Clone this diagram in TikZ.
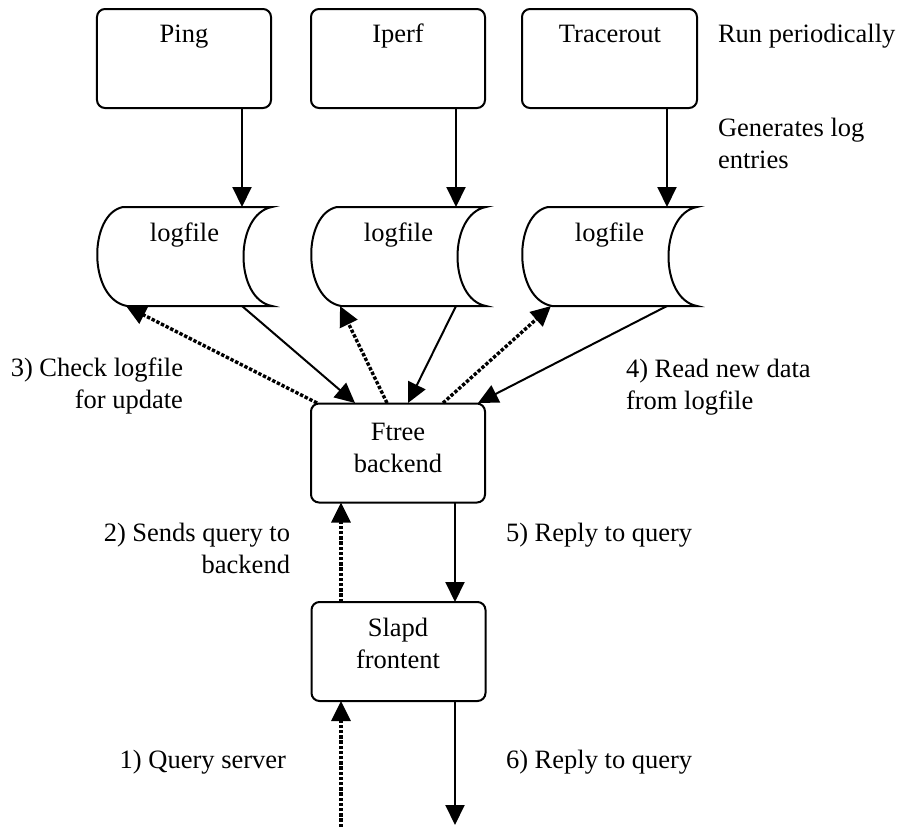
\documentclass[tikz,border=0pt]{standalone}
\usepackage{fontspec}
\setmainfont{LiberationSerif}[Extension=.ttf, UprightFont=*-Regular, BoldFont=*-Bold]
\usetikzlibrary{arrows.meta}
\begin{document}
\begin{tikzpicture}[x=0.5bp,y=-0.5bp,
  every node/.style={inner sep=0pt, outer sep=0pt},
  txt/.style={font=\rmfamily\fontsize{13.25bp}{16bp}\selectfont, anchor=base},
  txtl/.style={txt, anchor=base west},
  txtr/.style={txt, anchor=base east},
  box/.style={draw, line width=1bp, rounded corners=4bp,
    minimum width=87bp, minimum height=49.5bp},
  flow/.style={line width=1bp, -{Triangle[length=10bp,width=9.5bp]}},
  poll/.style={flow, line width=1.7bp, dash pattern=on 1.7bp off 0.9bp},
  logfile/.pic={
    \draw[line width=1bp, fill=white, line join=miter]
      (123,207) -- (272,207) .. controls (234,214) and (234,299) .. (272,306)
      -- (127,306) .. controls (88,299) and (88,214) .. cycle;
    \node[txt] (-t) at (184.5,241) {logfile};
    \coordinate (-in)  at (242,207);
    \coordinate (-out) at (242,306);
    \coordinate (-chk) at (126,306);
  }]
\useasboundingbox (0,0) rectangle (900,827);

% measurement tools, run periodically
\node[box] (ping)  at (184,58.5) {};
\node[box] (iperf) at (398,58.5) {};
\node[box, minimum width=87.5bp] (trace) at (609.5,58.5) {};
\node[txt] (pingt)  at (184,42) {Ping};
\node[txt] (iperft) at (398,42) {Iperf};
\node[txt] (tracet) at (610,42) {Tracerout};
\node[txtl] (runp) at (718,42) {Run periodically};
\node[txtl] (gen1) at (718,136) {Generates log};
\node[txtl] (gen2) at (718,168) {entries};

% log files
\pic (lf1) at (0,0) {logfile};
\pic (lf2) at (214,0) {logfile};
\pic (lf3) at (425,0) {logfile};

\draw[flow] (ping.south -| lf1-in) -- (lf1-in);
\draw[flow] (iperf.south -| lf2-in) -- (lf2-in);
\draw[flow] (trace.south -| lf3-in) -- (lf3-in);

% backend and frontend
\node[box] (ftree) at (398,453) {};
\node[txt] (ftreet1) at (398,440) {Ftree};
\node[txt] (ftreet2) at (398,472) {backend};
\node[box] (slapd) at (398.5,651.5) {};
\node[txt] (slapdt1) at (398,636) {Slapd};
\node[txt] (slapdt2) at (398,668) {frontent};

% attachment points on the backend's top edge
\coordinate (fa) at (317,403);
\coordinate (fb) at (355,403);
\coordinate (fc) at (387,403);
\coordinate (fd) at (408,403);
\coordinate (fe) at (443,403);
\coordinate (ff) at (478,403);

\draw[poll] (fa) -- (lf1-chk);
\draw[flow] (lf1-out) -- (fb);
\draw[poll] (fc) -- (lf2-chk);
\draw[flow] (lf2-out) -- (fd);
\draw[poll] (fe) -- (lf3-chk);
\draw[flow] (lf3-out) -- (ff);

% query path
\coordinate (upx) at (341,0);
\coordinate (dnx) at (455,0);
\coordinate (qin) at (341,827);
\coordinate (rout) at (455,825);
\draw[poll] (slapd.north -| upx) -- (ftree.south -| upx);
\draw[flow] (ftree.south -| dnx) -- (slapd.north -| dnx);
\draw[poll] (qin) -- (slapd.south -| upx);
\draw[flow] (slapd.south -| dnx) -- (rout);

% step labels
\node[txtr] (s3a) at (183,376) {3) Check logfile};
\node[txtr] (s3b) at (183,408) {for update};
\node[txtl] (s4a) at (626,377) {4) Read new data};
\node[txtl] (s4b) at (626,409) {from logfile};
\node[txtr] (s2a) at (290,541) {2) Sends query to};
\node[txtr] (s2b) at (290,573) {backend};
\node[txtl] (s5)  at (506,541) {5) Reply to query};
\node[txtr] (s1)  at (286,768) {1) Query server};
\node[txtl] (s6)  at (506,768) {6) Reply to query};
\end{tikzpicture}
\end{document}
